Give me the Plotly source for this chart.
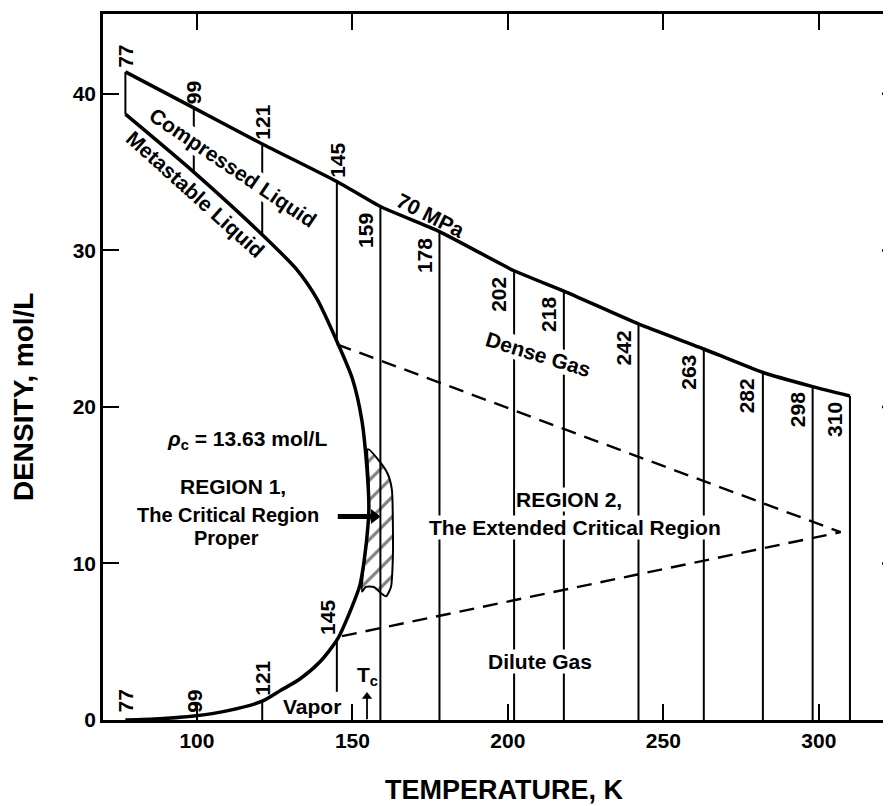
import plotly.graph_objects as go

FONT = "Liberation Sans, Arial, sans-serif"

# ---------------- data ----------------
# 70 MPa isobar (upper boundary)
isobar_T = [77, 99, 121, 145, 159, 178, 202, 218, 242, 263, 282, 298, 310]
isobar_rho = [41.4, 39.1, 36.8, 34.4, 32.8, 31.2, 28.7, 27.4, 25.3, 23.7, 22.2, 21.3, 20.7]

# coexistence curve: liquid branch then vapor branch
liquid_T = [77, 99, 121, 132, 138.6, 145, 150, 153, 154.7, 155.3]
liquid_rho = [38.7, 35.0, 31.0, 28.8, 26.9, 24.2, 21.8, 19.2, 16.0, 13.6]
vapor_T = [155.3, 155.0, 153.8, 152.4, 149.8, 145.3, 139.5, 133, 127, 121, 110, 99, 88, 77]
vapor_rho = [13.6, 12.4, 10.2, 8.6, 7.2, 5.2, 3.7, 2.6, 1.9, 1.2, 0.6, 0.25, 0.08, 0.0]

# isotherms in the liquid region: start density on the liquid branch
liq_iso_T = [77, 99, 121, 145]
liq_iso_bottom = [38.7, 35.0, 31.0, 24.2]
# supercritical isotherms, running from zero density to the isobar
gas_iso_T = [159, 178, 202, 218, 242, 263, 282, 298, 310]
# short vapor-side isotherm pieces: T, low, high
vap_iso_T = [121, 145]
vap_iso_low = [0.0, 1.8]
vap_iso_high = [1.2, 5.2]

# dashed boundary of region 2
region2_T = [145, 307, 145.3]
region2_rho = [24.0, 12.0, 5.3]

# hatched region 1
hatch_T = [155.0, 158.8, 161.4, 162.7, 163.0, 163.0, 162.4, 160.8, 159.2, 156.9,
           154.3, 153.1, 153.8, 155.0, 155.3, 155.2, 155.0]
hatch_rho = [17.3, 16.5, 15.7, 14.7, 12.8, 10.3, 8.5, 7.9, 8.1, 8.5,
             8.5, 8.2, 10.2, 12.4, 13.6, 15.5, 17.3]

# arrows: region-1 pointer (tail, head) and Tc marker (tail, head)
region1_arrow_T = [145.3, 157.0]
region1_arrow_rho = [13.0, 13.0]
tc_arrow_T = [154.7, 154.7]
tc_arrow_rho = [0.05, 1.5]

x_ticks = [100, 150, 200, 250, 300]
y_ticks = [0, 10, 20, 30, 40]

# ---------------- build ----------------
top_of = dict(zip(isobar_T, isobar_rho))

fig = go.Figure()

# hatch (first so isotherms show through)
fig.add_trace(go.Scatter(
    x=hatch_T, y=hatch_rho, mode="lines", fill="toself",
    line=dict(color="black", width=2, shape="spline", smoothing=0.6),
    fillcolor="white",
    fillpattern=dict(shape="/", fgcolor="black", bgcolor="white", size=14, solidity=0.22),
    hoverinfo="skip", showlegend=False))

iso_x, iso_y = [], []
for T, b in zip(liq_iso_T, liq_iso_bottom):
    iso_x += [T, T, None]
    iso_y += [b, top_of[T], None]
for T in gas_iso_T:
    iso_x += [T, T, None]
    iso_y += [0, top_of[T], None]
for T, lo, hi in zip(vap_iso_T, vap_iso_low, vap_iso_high):
    iso_x += [T, T, None]
    iso_y += [lo, hi, None]
fig.add_trace(go.Scatter(x=iso_x, y=iso_y, mode="lines",
                         line=dict(color="black", width=2),
                         hoverinfo="skip", showlegend=False))

fig.add_trace(go.Scatter(x=region2_T, y=region2_rho, mode="lines",
                         line=dict(color="black", width=2.4, dash="15px,9px"),
                         hoverinfo="skip", showlegend=False))

fig.add_trace(go.Scatter(x=liquid_T + vapor_T[1:], y=liquid_rho + vapor_rho[1:], mode="lines",
                         line=dict(color="black", width=3.5, shape="spline", smoothing=0.7),
                         hoverinfo="skip", showlegend=False))

fig.add_trace(go.Scatter(x=isobar_T, y=isobar_rho, mode="lines",
                         line=dict(color="black", width=3.5, shape="spline", smoothing=0.5),
                         hoverinfo="skip", showlegend=False))

# arrows as traces
fig.add_trace(go.Scatter(x=region1_arrow_T, y=region1_arrow_rho, mode="lines",
                         line=dict(color="black", width=5),
                         hoverinfo="skip", showlegend=False))
fig.add_trace(go.Scatter(x=region1_arrow_T[1:], y=region1_arrow_rho[1:], mode="markers",
                         marker=dict(symbol="triangle-right", size=13, color="black"),
                         hoverinfo="skip", showlegend=False))
fig.add_trace(go.Scatter(x=tc_arrow_T, y=tc_arrow_rho, mode="lines",
                         line=dict(color="black", width=1.8),
                         hoverinfo="skip", showlegend=False))
fig.add_trace(go.Scatter(x=tc_arrow_T[1:], y=tc_arrow_rho[1:], mode="markers",
                         marker=dict(symbol="triangle-up", size=9, color="black"),
                         hoverinfo="skip", showlegend=False))

# ---------------- annotations ----------------
ann = []
NUM = dict(family=FONT, size=21, color="black", weight="bold")

for T in liq_iso_T:
    ann.append(dict(x=T, y=top_of[T], text=str(T), showarrow=False, textangle=-90,
                    xanchor="center", yanchor="bottom", yshift=2, font=NUM))
for T in gas_iso_T:
    ann.append(dict(x=T, y=top_of[T], text=str(T), showarrow=False, textangle=-90,
                    xanchor="right", yanchor="top", xshift=-2, yshift=-4, font=NUM))

bottom_labels = [("77", 77, 0.35, "center", 0), ("99", 99, 0.35, "center", 0),
                 ("121", 121, 1.4, "center", 0), ("145", 145, 5.3, "right", 4)]
for t, T, r, xa, xs in bottom_labels:
    ann.append(dict(x=T, y=r, text=t, showarrow=False, textangle=-90,
                    xanchor=xa, yanchor="bottom", xshift=xs, font=NUM))

def label(text, x, y, angle=0, bg=None, size=21):
    d = dict(x=x, y=y, text=text, showarrow=False, textangle=angle,
             xanchor="center", yanchor="middle",
             font=dict(family=FONT, size=size, color="black", weight="bold"))
    if bg:
        d["bgcolor"] = bg
        d["borderpad"] = 0
    ann.append(d)

label("Compressed Liquid", 111.6, 35.3, 34, bg="white")
label("Metastable Liquid", 99.7, 33.6, 42)
label("70 MPa", 175.2, 32.2, 27)
label("Dense Gas", 210, 23.35, 17, bg="white")
label("<i>ρ</i><sub>c</sub> = 13.63 mol/L", 116, 17.9)
label("REGION 1,", 111.6, 14.9)
label("The Critical Region", 110, 13.1, size=20)
label("Proper", 109.6, 11.65, size=20)
label("REGION 2,", 219.6, 14.1, bg="white")
label("The Extended Critical Region", 221.5, 12.3, bg="white")
label("Dilute Gas", 210.3, 3.75, bg="white")
label("Vapor", 137, 0.85)
label("T<sub>c</sub>", 154.7, 2.8)

# axis titles
ann.append(dict(x=0.51, y=-0.099, xref="paper", yref="paper", text="TEMPERATURE, K",
                showarrow=False, xanchor="center", yanchor="middle",
                font=dict(family=FONT, size=27, color="black", weight="bold")))
ann.append(dict(x=-0.1015, y=0.4575, xref="paper", yref="paper", text="DENSITY, mol/L",
                showarrow=False, textangle=-90, xanchor="center", yanchor="middle",
                font=dict(family=FONT, size=28, color="black", weight="bold")))

shapes = []
for v in y_ticks[1:]:
    shapes.append(dict(type="line", xref="paper", yref="y", x0=1 - 9 / 788, x1=1,
                       y0=v, y1=v, line=dict(color="black", width=2.5)))

# page body adds an 8px offset, so the figure is 8px smaller on each axis
fig.update_layout(
    width=883, height=798,
    margin=dict(l=95, r=0, t=6, b=86),
    paper_bgcolor="white", plot_bgcolor="white",
    showlegend=False,
    annotations=ann, shapes=shapes,
    xaxis=dict(range=[69.8, 323.2], tickvals=x_ticks, ticks="inside", ticklen=16,
               tickwidth=2.2, tickcolor="black", showline=True, linecolor="black",
               linewidth=2.5, mirror="ticks", showgrid=False, zeroline=False,
               tickfont=dict(family=FONT, size=21, color="black", weight="bold")),
    yaxis=dict(range=[0, 45.1], tickvals=y_ticks, ticks="inside", ticklen=16,
               tickwidth=2.2, tickcolor="black", showline=True, linecolor="black",
               linewidth=2.5, mirror=False, showgrid=False, zeroline=False,
               tickfont=dict(family=FONT, size=21, color="black", weight="bold")),
)

fig.write_html("out.html")
